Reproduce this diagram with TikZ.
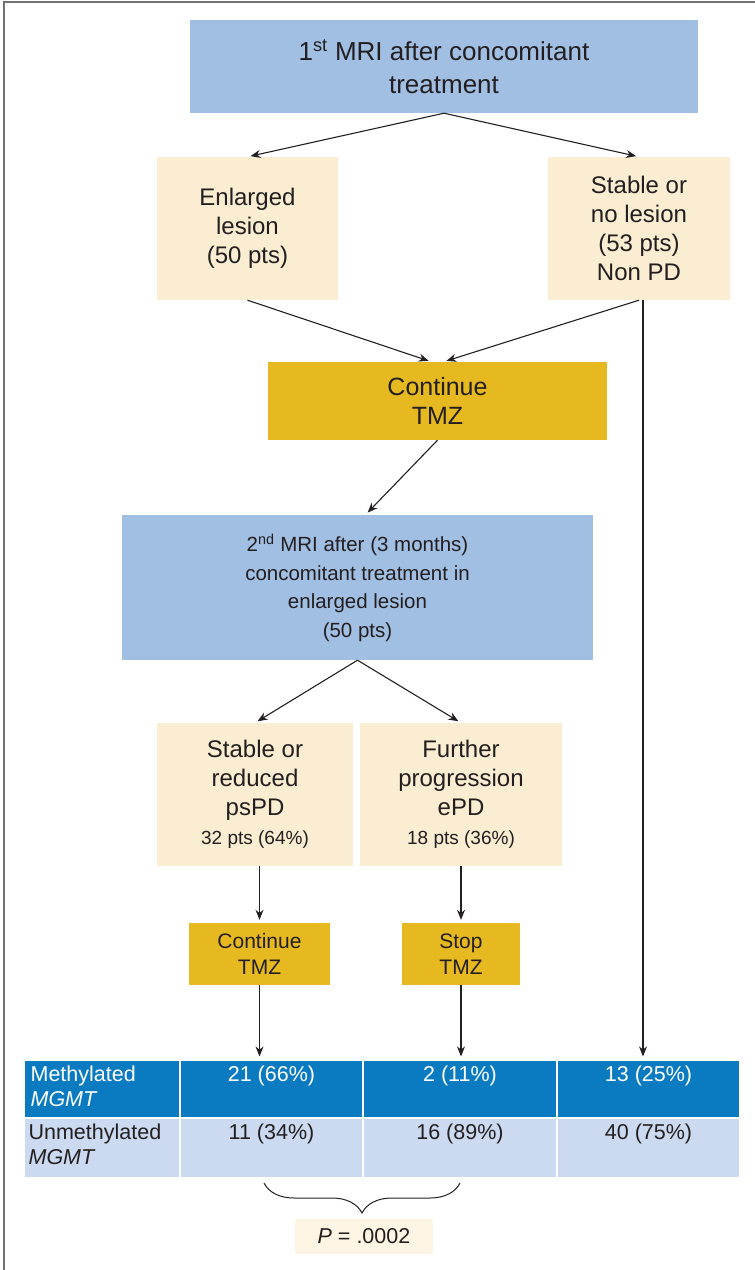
\documentclass[tikz,border=0pt]{standalone}
\usepackage{fontspec}
\setmainfont{Liberation Sans}
\usetikzlibrary{arrows.meta,decorations.pathreplacing}
\begin{document}
\begin{tikzpicture}[x=1pt, y=-1pt,
        box/.style={inner sep=0pt, align=center, text=ink},
        mribox/.style={box, fill=mriblue},
        resbox/.style={box, fill=cream, font=\fontsize{24}{29}\selectfont},
        tmzbox/.style={box, fill=gold},
        cell/.style={draw=white, line width=1.2pt, inner sep=0pt},
        hicell/.style={cell, fill=tabdark},
        locell/.style={cell, fill=tablight},
        ctxt/.style={anchor=north, inner sep=0pt, font=\fontsize{21.5}{25}\selectfont},
        arr/.style={draw=ink, line width=1.1pt, -{Stealth[length=10pt,width=8pt]}, shorten >=3pt},
        frame/.style={draw=black!55, line width=2pt},
      ]
      \definecolor{ink}{HTML}{231F20}
      \definecolor{mriblue}{HTML}{A1BEE3}
      \definecolor{cream}{HTML}{FAEDD2}
      \definecolor{gold}{HTML}{E6B921}
      \definecolor{tabdark}{HTML}{0A7BC1}
      \definecolor{tablight}{HTML}{CBDAF0}
      \definecolor{pcream}{HTML}{FDF5E4}
      \path[use as bounding box] (0,0) rectangle (755,1270);
      \draw[frame] (4,1270) -- (4,2) -- (755,2);
      \node[mribox, minimum width=508pt, minimum height=93pt, font=\fontsize{26}{33}\selectfont] (mri1) at (444,66.5) {1\textsuperscript{st} MRI after concomitant\\treatment};
      \node[resbox, minimum width=181pt, minimum height=143pt] (enl) at (247.5,228.5) {Enlarged\\lesion\\(50 pts)};
      \node[resbox, minimum width=182pt, minimum height=143pt] (stab) at (639,228.5) {Stable or\\no lesion\\(53 pts)\\Non PD};
      \node[tmzbox, minimum width=339pt, minimum height=78pt, font=\fontsize{25}{29}\selectfont] (cont) at (437.5,401) {Continue\\TMZ};
      \node[mribox, minimum width=471pt, minimum height=145pt, font=\fontsize{20.5}{28.5}\selectfont] (mri2) at (357.5,587.5) {2\textsuperscript{nd} MRI after (3 months)\\concomitant treatment in\\enlarged lesion\\(50 pts)};
      \node[resbox, minimum width=196pt, minimum height=143pt] (stab2) at (255,794.5) {Stable or\\reduced\\psPD\\{\fontsize{19}{26}\selectfont 32 pts (64\%)}};
      \node[resbox, minimum width=202pt, minimum height=143pt] (furt) at (461,794.5) {Further\\progression\\ePD\\{\fontsize{19}{26}\selectfont 18 pts (36\%)}};
      \node[tmzbox, minimum width=141pt, minimum height=62pt, font=\fontsize{21}{26}\selectfont] (contsm) at (259.5,954) {Continue\\TMZ};
      \node[tmzbox, minimum width=118pt, minimum height=62pt, font=\fontsize{21}{26}\selectfont] (stop) at (461,954) {Stop\\TMZ};
      \node[hicell, minimum width=156pt, minimum height=58pt] (lm) at (102,1089) {};
      \node[hicell, minimum width=183pt, minimum height=58pt] (m1) at (271.5,1089) {};
      \node[hicell, minimum width=194pt, minimum height=58pt] (m2) at (460,1089) {};
      \node[hicell, minimum width=183pt, minimum height=58pt] (m3) at (648.5,1089) {};
      \node[locell, minimum width=156pt, minimum height=60pt] (lu) at (102,1148) {};
      \node[locell, minimum width=183pt, minimum height=60pt] (u1) at (271.5,1148) {};
      \node[locell, minimum width=194pt, minimum height=60pt] (u2) at (460,1148) {};
      \node[locell, minimum width=183pt, minimum height=60pt] (u3) at (648.5,1148) {};
      \node[ctxt, anchor=north west, align=left, text=white] (lmt) at ([xshift=7pt,yshift=-6pt]lm.north west) {Methylated\\\textit{MGMT}};
      \node[ctxt, text=white] (m1t) at ([yshift=-6pt]m1.north) {21 (66\%)};
      \node[ctxt, text=white] (m2t) at ([yshift=-6pt]m2.north) {2 (11\%)};
      \node[ctxt, text=white] (m3t) at ([yshift=-6pt]m3.north) {13 (25\%)};
      \node[ctxt, anchor=north west, align=left, text=ink] (lut) at ([xshift=5pt,yshift=-6pt]lu.north west) {Unmethylated\\\textit{MGMT}};
      \node[ctxt, text=ink] (u1t) at ([yshift=-6pt]u1.north) {11 (34\%)};
      \node[ctxt, text=ink] (u2t) at ([yshift=-6pt]u2.north) {16 (89\%)};
      \node[ctxt, text=ink] (u3t) at ([yshift=-6pt]u3.north) {40 (75\%)};
      \node[box, fill=pcream, minimum width=138pt, minimum height=35pt, font=\fontsize{21.5}{25}\selectfont] (pval) at (364,1236.5) {\textit{P} = .0002};
      \coordinate (bl) at (264,1183);
      \coordinate (br) at (460,1183);
      \draw[ink, line width=1pt, decorate, decoration={brace, mirror, amplitude=30pt}] (bl) -- (br);
      \draw[arr] (mri1.south) -- (enl.north);
      \draw[arr] (mri1.south) -- (stab.north);
      \draw[arr] (enl.south) -- ([xshift=-6pt]cont.north);
      \draw[arr] (stab.south) -- ([xshift=6pt]cont.north);
      \draw[arr] ([xshift=4pt]stab.south) -- ([xshift=4pt]stab.south |- m3.north);
      \draw[arr] (cont.south) -- ([xshift=8pt]mri2.north);
      \draw[arr] (mri2.south) -- (stab2.north);
      \draw[arr] (mri2.south) -- (furt.north);
      \draw[arr] (contsm.north |- stab2.south) -- (contsm.north);
      \draw[arr] (furt.south) -- (stop.north);
      \draw[arr] (contsm.south) -- (contsm.south |- m1.north);
      \draw[arr] (stop.south) -- (stop.south |- m2.north);
    \end{tikzpicture}
\end{document}
